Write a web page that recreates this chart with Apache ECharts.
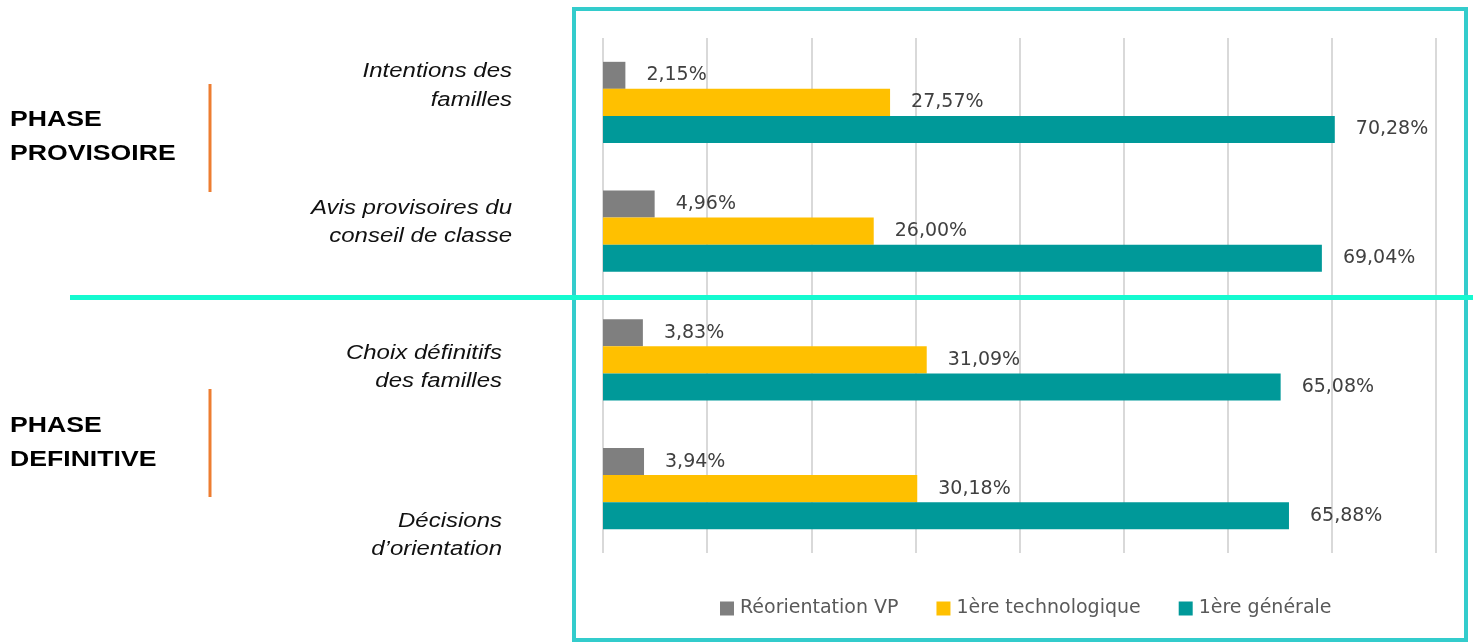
<!DOCTYPE html>
<html>
<head>
<meta charset="utf-8">
<script src="https://cdn.jsdelivr.net/npm/echarts@6/dist/echarts.min.js"></script>
<style>html,body{margin:0;padding:0;background:#fff}#c{width:1473px;height:644px}</style>
</head>
<body>
<div id="c"></div>
<script>
const categories = ['Intentions des\nfamilles', 'Avis provisoires du\nconseil de classe', 'Choix définitifs\ndes familles', 'Décisions\nd’orientation'];
const seriesNames = ['Réorientation VP', '1ère technologique', '1ère générale'];
const reorientationVP = [2.15, 4.96, 3.83, 3.94];
const techno = [27.57, 26.00, 31.09, 30.18];
const generale = [70.28, 69.04, 65.08, 65.88];
const phases = ['PHASE\nPROVISOIRE', 'PHASE\nDEFINITIVE'];

const colors = ['#7F7F7F', '#FFC000', '#009999'];
const values = [reorientationVP, techno, generale];

// label placement (layout only)
const catLabelPos = [[512, 86], [512, 222.5], [502, 367.5], [502, 535.5]];
const phasePos = [[10, 137], [10, 443]];

const chart = echarts.init(document.getElementById('c'), null, {renderer: 'canvas'});
const fmt = v => v.toFixed(2).replace('.', ',') + '%';

const graphics = [
  {type: 'rect', z: 50, shape: {x: 574, y: 9, width: 892, height: 631},
   style: {fill: 'none', stroke: '#33CCCC', lineWidth: 4}},
  {type: 'line', z: 60, shape: {x1: 70, y1: 297.5, x2: 1473, y2: 297.5},
   style: {stroke: '#14FAD0', lineWidth: 5}},
  {type: 'line', z: 60, shape: {x1: 210, y1: 84, x2: 210, y2: 192},
   style: {stroke: '#ED7D31', lineWidth: 3}},
  {type: 'line', z: 60, shape: {x1: 210, y1: 389, x2: 210, y2: 497},
   style: {stroke: '#ED7D31', lineWidth: 3}}
];
categories.forEach((c, i) => graphics.push({
  type: 'text', z: 60, x: catLabelPos[i][0], y: catLabelPos[i][1], scaleX: 1.2,
  style: {text: c, align: 'right', verticalAlign: 'middle', fill: '#111',
    font: 'italic 20px "Liberation Sans", Arial, sans-serif', lineHeight: 28.5}
}));
phases.forEach((p, i) => graphics.push({
  type: 'text', z: 60, x: phasePos[i][0], y: phasePos[i][1], scaleX: 1.21,
  style: {text: p, align: 'left', verticalAlign: 'middle', fill: '#000',
    font: 'bold 22px "Liberation Sans", Arial, sans-serif', lineHeight: 34}
}));

chart.setOption({
  animation: false,
  color: colors,
  grid: {left: 603, right: 37, top: 38, bottom: 91, containLabel: false},
  legend: {
    data: seriesNames, left: 715, top: 594, itemWidth: 14, itemHeight: 14, itemGap: 38,
    icon: 'rect',
    textStyle: {color: '#595959', fontSize: 19, fontFamily: '"DejaVu Sans", sans-serif', padding: [0, 0, 0, 1]}
  },
  xAxis: {
    type: 'value', min: 0, max: 80, interval: 10,
    axisLabel: {show: false}, axisLine: {show: false}, axisTick: {show: false},
    splitLine: {show: true, lineStyle: {color: '#D9D9D9', width: 2}}
  },
  yAxis: {
    type: 'category', data: categories, inverse: true,
    axisLabel: {show: false}, axisLine: {show: false}, axisTick: {show: false}
  },
  series: seriesNames.map((n, i) => ({
    name: n, type: 'bar', data: values[i], barGap: '0%', barCategoryGap: '37%',
    itemStyle: {color: colors[i]},
    label: {show: true, position: 'right', distance: 21, formatter: p => fmt(p.value),
      color: '#404040', fontSize: 19, fontFamily: '"DejaVu Sans", sans-serif'}
  })),
  graphic: graphics
});
</script>
</body>
</html>
